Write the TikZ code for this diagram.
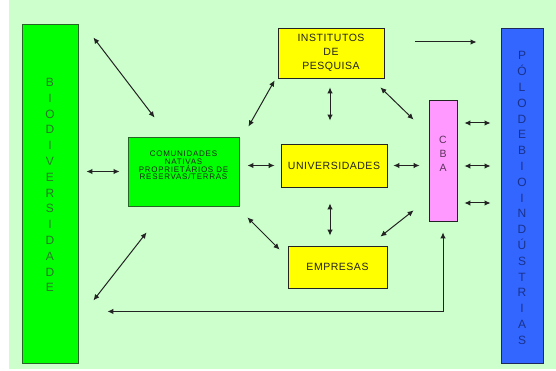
\documentclass[tikz,border=0pt]{standalone}
\usepackage{fontspec}
\setmainfont{Liberation Sans}
\newfontfamily\boxfont[LetterSpace=5]{Liberation Sans}
\newfontfamily\comfont[LetterSpace=9]{Liberation Sans}
\usetikzlibrary{arrows.meta,positioning}

\definecolor{bggreen}{RGB}{204,255,204}
\definecolor{limegreen}{RGB}{0,255,0}
\definecolor{darkgreen}{RGB}{40,100,40}
\definecolor{lettergreen}{RGB}{40,120,40}
\definecolor{boxyellow}{RGB}{255,255,0}
\definecolor{boxpink}{RGB}{255,153,255}
\definecolor{letterpink}{RGB}{90,50,90}
\definecolor{barblue}{RGB}{51,102,255}
\definecolor{letterblue}{RGB}{25,50,140}
\definecolor{navy}{RGB}{30,40,90}
\definecolor{linegray}{RGB}{35,35,35}

\begin{document}
\begin{tikzpicture}[
        x=1pt, y=-1pt,
        link/.style={{Latex[length=6pt,width=5.5pt]}-{Latex[length=6pt,width=5.5pt]}, line width=1pt, draw=linegray},
        onelink/.style={-{Latex[length=6pt,width=5.5pt]}, line width=1pt, draw=linegray},
        greenbar/.style={rectangle, draw=darkgreen, line width=0.9pt, fill=limegreen, minimum width=56pt, minimum height=339pt},
        bluebar/.style={rectangle, draw=navy, line width=0.9pt, fill=barblue, minimum width=42pt, minimum height=335pt},
        pinkbar/.style={rectangle, draw=linegray, line width=0.8pt, fill=boxpink, minimum width=28pt, minimum height=121pt},
        greenbox/.style={rectangle, draw=darkgreen, line width=0.9pt, fill=limegreen},
        comtext/.style={align=center, font=\comfont\fontsize{8}{7.7}\selectfont, text=linegray},
        yellowbox/.style={rectangle, draw=linegray, line width=0.8pt, fill=boxyellow, align=center, font=\boxfont\fontsize{10.5}{14}\selectfont, text=linegray},
        letters/.style={align=center, font=\fontsize{12}{15.8}\selectfont}
    ]
        \useasboundingbox (0,0) rectangle (556,371);
        \fill[white] (0,0) rectangle (556,371);
        \fill[bggreen] (9,0) rectangle (556,369);

        % side bars
        \node[greenbar] (bio) at (50,193.5) {};
        \node[letters, text=lettergreen] (biotxt) at (50,185) {B\\I\\O\\D\\I\\V\\E\\R\\S\\I\\D\\A\\D\\E};
        \node[bluebar] (polo) at (522,195.5) {};
        \node[letters, text=letterblue] (polotxt) at (522,198) {P\\Ó\\L\\O\\D\\E\\B\\I\\O\\I\\N\\D\\Ú\\S\\T\\R\\I\\A\\S};
        \node[pinkbar] (cba) at (443,160.5) {};
        \node[letters, text=letterpink, font=\fontsize{10.5}{14}\selectfont] (cbatxt) at (443,154) {C\\B\\A};

        % boxes
        \node[greenbox, minimum width=111pt, minimum height=69pt] (com) at (183.5,171.5) {};
        \node[comtext] (comtxt) at (183.5,165.5) {COMUNIDADES\\NATIVAS\\PROPRIETÁRIOS DE\\RESERVAS/TERRAS};
        \node[yellowbox, minimum width=106pt, minimum height=50pt] (inst) at (331,53) {INSTITUTOS\\DE\\PESQUISA};
        \node[yellowbox, minimum width=106pt, minimum height=43pt] (univ) at (334,165.5) {UNIVERSIDADES};
        \node[yellowbox, minimum width=99pt, minimum height=42pt] (emp) at (337.5,267) {EMPRESAS};

        % connectors
        \draw[link] ([shift={(15,14)}]bio.north east) -- ([shift={(27,-19)}]com.north west);
        \draw[link] ([shift={(9,-10)}]com.north east) -- ([shift={(-3,2)}]inst.south west);
        \draw[link, shorten <=8pt, shorten >=8pt] (com.west -| bio.east) -- (com.west);
        \draw[link, shorten <=8pt, shorten >=6pt] (com.east |- univ.west) -- (univ.west);
        \draw[link, shorten <=9pt, shorten >=23pt] ([xshift=-1pt]inst.south) -- ([xshift=-1pt]inst.south |- univ.north);
        \draw[link] ([shift={(-4,9)}]inst.south east) -- ([shift={(-15,20)}]cba.north west);
        \draw[onelink, shorten <=31pt, shorten >=24pt] ([yshift=11pt]inst.east) -- ([yshift=11pt]inst.east -| polo.west);
        \draw[link, shorten <=6pt, shorten >=9pt] (univ.east) -- (univ.east -| cba.west);
        \foreach \yy in {123,166,203}
            \draw[link, shorten <=7pt, shorten >=10pt] (cba.east |- 0,\yy) -- (polo.west |- 0,\yy);
        \draw[link, shorten <=16pt, shorten >=10pt] ([xshift=-4pt]univ.south) -- ([xshift=-4pt]univ.south |- emp.north);
        \draw[link] ([shift={(-7,-9)}]emp.north east) -- ([shift={(-15,-11)}]cba.south west);
        \draw[link] ([shift={(8,11)}]com.south east) -- ([shift={(-8,4)}]emp.north west);
        \draw[link] ([shift={(15,-63)}]bio.south east) -- ([shift={(19,26)}]com.south west);
        \draw[link, shorten >=11pt] ([shift={(29,-52)}]bio.south east) -| (cba.south);
    \end{tikzpicture}
\end{document}
